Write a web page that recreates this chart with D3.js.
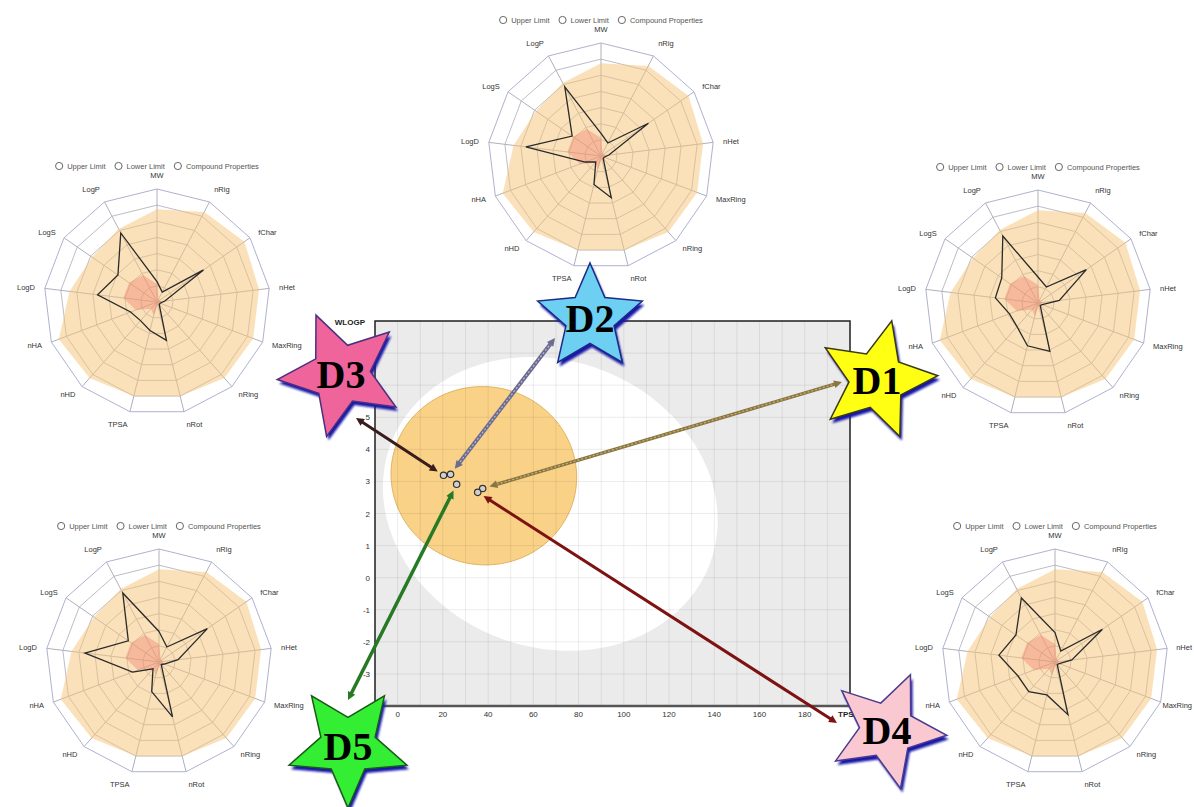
<!DOCTYPE html>
<html><head><meta charset="utf-8">
<script src="https://cdn.jsdelivr.net/npm/d3@7"></script>
<style>body{margin:0;background:#fff}svg{display:block}</style>
</head><body>
<svg id="c" width="1194" height="807"></svg>
<script>
// ---------------- DATA ----------------
const radarAxes = ["MW","nRig","fChar","nHet","MaxRing","nRing","nRot","TPSA","nHD","nHA","LogD","LogS","LogP"];
const legendItems = ["Upper Limit","Lower Limit","Compound Properties"];
const upperLimit = [0.82,0.90,0.94,0.91,0.91,0.90,0.86,0.86,0.90,0.93,0.78,0.70,0.73];
const lowerLimit = [0.16,0.03,0.03,0.04,0.03,0.05,0.03,0.12,0.08,0.2,0.3,0.3,0.27];
const compoundD1 = [0.23,0.16,0.52,0.19,0.04,0.03,0.44,0.39,0.28,0.27,0.38,0.39,0.67];
const compoundD2 = [0.20,0.13,0.51,0.07,0.03,0.03,0.38,0.26,0.07,0.15,0.67,0.31,0.69];
const compoundD3 = [0.18,0.10,0.50,0.07,0.03,0.03,0.35,0.26,0.22,0.25,0.53,0.42,0.69];
const compoundD4 = [0.26,0.11,0.51,0.15,0.04,0.03,0.48,0.30,0.35,0.35,0.50,0.42,0.64];
const compoundD5 = [0.27,0.15,0.52,0.17,0.05,0.03,0.50,0.27,0.08,0.25,0.66,0.33,0.69];
const compoundValues = {D1:compoundD1,D2:compoundD2,D3:compoundD3,D4:compoundD4,D5:compoundD5};

const compounds = ["D1","D2","D3","D4","D5"];
const tpsa  = [37.6, 23.4, 20.3, 35.4, 26.1];
const wlogp = [2.78, 3.22, 3.19, 2.66, 2.91];
const xTicks = [0,20,40,60,80,100,120,140,160,180];
const yTicks = [-3,-2,-1,0,1,2,3,4,5,6,7];
// BOILED-Egg ellipses: [center TPSA, center WLOGP, axis length TPSA, axis length WLOGP, angle deg]
const hiaEllipse = [67.5, 2.30, 148.0, 9.10, -0.4];
const bbbEllipse = [38.117, 3.177, 82.061, 5.557, -0.066837];

// ---------------- LAYOUT / STYLE ----------------
const radarLayout = {D2:[601,156], D3:[157,302], D1:[1038,303], D5:[159,662], D4:[1055,662]};
const RR = 113, RINGS = 7;
const starLayout = {
  D1:{c:[877,380], R:61, rot:14,  fill:"#ffff14", stroke:"#3a3a18"},
  D2:{c:[590,318], R:55, rot:0,   fill:"#6dcff2", stroke:"#1c2a88"},
  D3:{c:[341,374], R:64, rot:-23, fill:"#f0649c", stroke:"#4a3080"},
  D4:{c:[887,730], R:60, rot:23,  fill:"#f9c8d0", stroke:"#4a3a90"},
  D5:{c:[348,746], R:62, rot:180, fill:"#33ee33", stroke:"#1a5a1a"}
};
const arrowLayout = {
  D1:{s:[842,382], color:"#8a7644", inner:"#c9b36a", w:3.5},
  D2:{s:[555,338], color:"#6c6c90", inner:"#b8b8d8", w:4},
  D3:{s:[356,418], color:"#3a1c1c", inner:null, w:3},
  D4:{s:[837,723], color:"#7c1212", inner:null, w:3},
  D5:{s:[348,700], color:"#267a26", inner:null, w:3.5}
};

const svg = d3.select("#c");
svg.append("rect").attr("width",1194).attr("height",807).attr("fill","#fff");

// ---------------- SCATTER (BOILED-Egg) ----------------
const x = d3.scaleLinear().domain([-10,200]).range([375,850]);
const y = d3.scaleLinear().domain([-4,8]).range([706,321]);
const plot = svg.append("g");
plot.append("rect").attr("x",x(-10)).attr("y",y(8)).attr("width",x(200)-x(-10)).attr("height",y(-4)-y(8)).attr("fill","#ebebeb");

function ellipsePts(e){
  const [cx,cy,A,B,ang]=e, a=A/2, b=B/2, phi=ang*Math.PI/180;
  return d3.range(0,360,2).map(t=>{t=t*Math.PI/180;const ex=a*Math.cos(t),ey=b*Math.sin(t);
    return [x(cx+ex*Math.cos(phi)-ey*Math.sin(phi)), y(cy+ex*Math.sin(phi)+ey*Math.cos(phi))];});
}
const closed = d3.line().curve(d3.curveLinearClosed);
plot.append("path").attr("d",closed(ellipsePts(hiaEllipse))).attr("fill","#ffffff");
plot.append("path").attr("d",closed(ellipsePts(bbbEllipse))).attr("fill","#f9d287").attr("stroke","#e0b462").attr("stroke-width",1);

// grid
const gridG = plot.append("g").attr("stroke","rgba(0,0,0,0.075)").attr("stroke-width",1);
d3.range(-10,201,10).forEach(v=>gridG.append("line").attr("x1",x(v)).attr("x2",x(v)).attr("y1",y(8)).attr("y2",y(-4)));
d3.range(-4,9,1).forEach(v=>gridG.append("line").attr("x1",x(-10)).attr("x2",x(200)).attr("y1",y(v)).attr("y2",y(v)));

// frame
plot.append("rect").attr("x",x(-10)).attr("y",y(8)).attr("width",x(200)-x(-10)).attr("height",y(-4)-y(8))
  .attr("fill","none").attr("stroke","#222").attr("stroke-width",1.5);
plot.append("line").attr("x1",x(-10)).attr("x2",x(200)).attr("y1",y(-4)).attr("y2",y(-4)).attr("stroke","#555").attr("stroke-width",2.5);

const tickFont = "Liberation Sans, Arial, sans-serif";
plot.selectAll(".xt").data(xTicks).join("text").attr("x",d=>x(d)).attr("y",y(-4)+11)
  .attr("text-anchor","middle").attr("font-family",tickFont).attr("font-size",8).attr("fill","#333").text(d=>d);
plot.selectAll(".yt").data(yTicks).join("text").attr("x",x(-10)-5).attr("y",d=>y(d)+3)
  .attr("text-anchor","end").attr("font-family",tickFont).attr("font-size",8).attr("fill","#333").text(d=>d);
plot.append("text").attr("x",x(-10)-10).attr("y",y(8)+4).attr("text-anchor","end").attr("font-family",tickFont)
  .attr("font-size",8).attr("font-weight","bold").attr("fill","#222").text("WLOGP");
plot.append("text").attr("x",x(200)-12).attr("y",y(-4)+11).attr("text-anchor","start").attr("font-family",tickFont)
  .attr("font-size",8).attr("font-weight","bold").attr("fill","#222").text("TPSA");

// ---------------- ARROWS ----------------
const arrowsG = svg.append("g");
function head(g, tip, dir, color){
  const L=8, Wd=4, [ux,uy]=dir, px=-uy, py=ux;
  const bx=tip[0]-ux*L, by=tip[1]-uy*L;
  g.append("path").attr("d",`M${tip[0]},${tip[1]}L${bx+px*Wd},${by+py*Wd}L${bx-px*Wd},${by-py*Wd}Z`).attr("fill",color);
}
compounds.forEach((id,i)=>{
  const P=[x(tpsa[i]),y(wlogp[i])], A=arrowLayout[id], S=A.s;
  const dx=S[0]-P[0], dy=S[1]-P[1], len=Math.hypot(dx,dy), u=[dx/len,dy/len];
  const E=[P[0]+u[0]*7, P[1]+u[1]*7];
  const g=arrowsG.append("g");
  g.append("line").attr("x1",S[0]-u[0]*5).attr("y1",S[1]-u[1]*5).attr("x2",E[0]+u[0]*5).attr("y2",E[1]+u[1]*5)
    .attr("stroke",A.color).attr("stroke-width",A.w);
  if(A.inner) g.append("line").attr("x1",S[0]-u[0]*6).attr("y1",S[1]-u[1]*6).attr("x2",E[0]+u[0]*6).attr("y2",E[1]+u[1]*6)
    .attr("stroke",A.inner).attr("stroke-width",1.2).attr("stroke-dasharray","2,2");
  head(g,S,u,A.color);
  head(g,E,[-u[0],-u[1]],A.color);
});

// points
plot.append("g").selectAll("circle").data(compounds).join("circle")
  .attr("cx",(d,i)=>x(tpsa[i])).attr("cy",(d,i)=>y(wlogp[i])).attr("r",3.2)
  .attr("fill","#d0d0d0").attr("stroke","#333").attr("stroke-width",1.2);
svg.node().appendChild(arrowsG.node());

// ---------------- RADARS ----------------
const N = radarAxes.length;
const rs = d3.scaleLinear().domain([0,1]).range([0,RR]);
const ang = i => i*2*Math.PI/N;
const radial = d3.lineRadial().angle((d,i)=>ang(i)).radius(d=>rs(d)).curve(d3.curveLinearClosed);
const radarFont = "Liberation Sans, Arial, sans-serif";

function drawRadar(id){
  const [cx,cy]=radarLayout[id];
  const g = svg.append("g").attr("transform",`translate(${cx},${cy})`);
  d3.range(1,RINGS+1).forEach(k=>{
    g.append("path").attr("d",radial(radarAxes.map(()=>k/RINGS))).attr("fill","none")
      .attr("stroke",k===RINGS?"#aeb2d0":"#bdbdc8").attr("stroke-width",1);
  });
  radarAxes.forEach((a,i)=>{
    g.append("line").attr("x1",0).attr("y1",0).attr("x2",rs(1)*Math.sin(ang(i))).attr("y2",-rs(1)*Math.cos(ang(i)))
      .attr("stroke","#b0b0bc").attr("stroke-width",1);
  });
  g.append("path").attr("d",radial(upperLimit)).attr("fill","#f6c57a").attr("fill-opacity",0.52);
  g.append("path").attr("d",radial(lowerLimit)).attr("fill","#f07a68").attr("fill-opacity",0.38);
  g.append("path").attr("d",radial(compoundValues[id])).attr("fill","none").attr("stroke","#2a2a2a").attr("stroke-width",1.3);
  radarAxes.forEach((a,i)=>{
    const s=Math.sin(ang(i)), c=Math.cos(ang(i)), rr=RR+10;
    let anchor = s>0.15?"start":(s<-0.15?"end":"middle");
    let dy = c>0.8? -1 : (c<-0.8? 6 : 2.5);
    const t = g.append("text").attr("x",rr*s).attr("y",-rr*c+dy).attr("text-anchor",anchor)
      .attr("font-family",radarFont).attr("font-size",7.5).attr("fill","#333").text(a);
    const w = t.node().getComputedTextLength();
    if(anchor==="start" && cx+rr*s+w>1192) t.attr("x",1192-cx-w);
    if(anchor==="end" && cx+rr*s-w<2) t.attr("x",2-cx+w);
  });
  const lg = g.append("g");
  let xpos=0;
  legendItems.forEach(t=>{
    const it=lg.append("g").attr("transform",`translate(${xpos},0)`);
    it.append("circle").attr("cx",4).attr("cy",0).attr("r",3.6).attr("fill","#fff").attr("stroke","#666").attr("stroke-width",1);
    const tx=it.append("text").attr("x",12).attr("y",2.6).attr("font-family",radarFont).attr("font-size",7.5).attr("fill","#555").text(t);
    xpos += 12 + tx.node().getComputedTextLength() + 9;
  });
  lg.attr("transform",`translate(${-(xpos-9)/2},${-RR-23})`);
}
Object.keys(radarLayout).forEach(drawRadar);

// ---------------- STARS ----------------
function starPts(R, r, rot){
  return d3.range(10).map(k=>{const a=(rot+k*36)*Math.PI/180, rad=k%2?r:R; return [rad*Math.sin(a), -rad*Math.cos(a)];});
}
const defs = svg.append("defs");
defs.append("filter").attr("id","blur").append("feGaussianBlur").attr("stdDeviation",1);
compounds.forEach(id=>{
  const S=starLayout[id];
  const g=svg.append("g").attr("transform",`translate(${S.c[0]},${S.c[1]})`);
  const pts=starPts(S.R, S.R*0.46, S.rot);
  g.append("path").attr("d",closed(pts)).attr("transform","translate(2,4)").attr("fill","#1414a8").attr("filter","url(#blur)");
  g.append("path").attr("d",closed(pts)).attr("fill",S.fill).attr("stroke",S.stroke).attr("stroke-width",1.5).attr("stroke-linejoin","miter");
  g.append("text").attr("x",0).attr("y",14).attr("text-anchor","middle")
    .attr("font-family","Liberation Serif, Times New Roman, serif").attr("font-weight","bold").attr("font-size",40)
    .attr("fill","#000").text(id);
});
</script>
</body></html>
